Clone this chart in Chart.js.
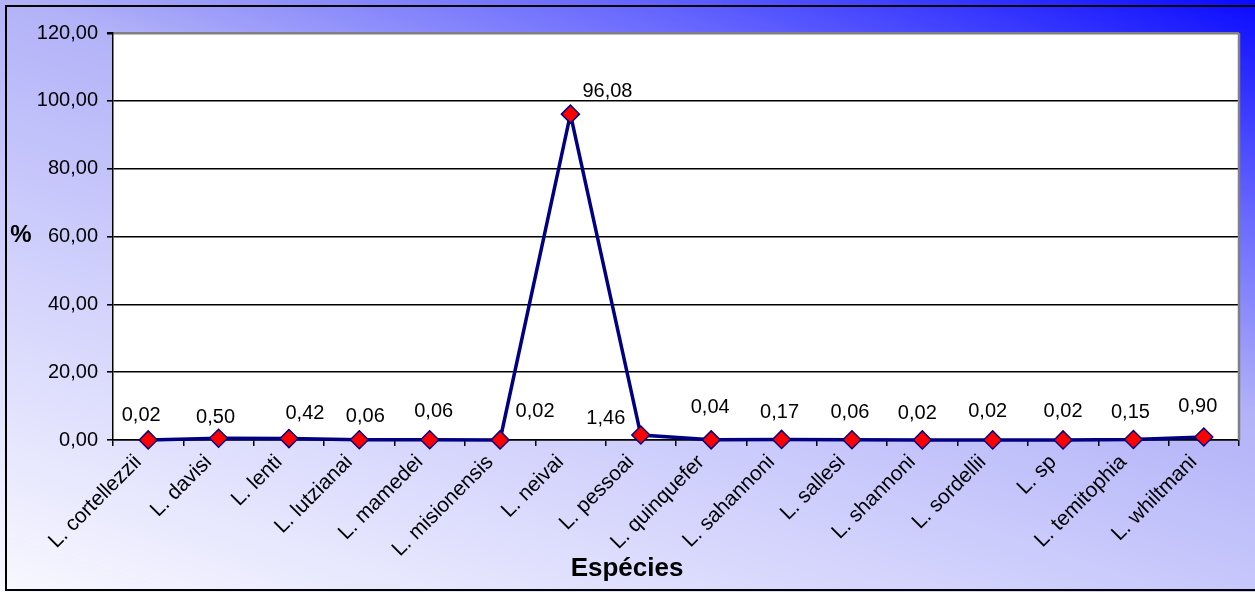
<!DOCTYPE html>
<html>
<head>
<meta charset="utf-8">
<script src="https://cdn.jsdelivr.net/npm/chart.js@4/dist/chart.umd.min.js"></script>
<style>
  html, body { margin: 0; padding: 0; background: #fff; }
  #wrap { width: 1255px; height: 592px; }
</style>
</head>
<body>
<div id="wrap"><canvas id="chart" width="1255" height="592"></canvas></div>
<script>
// Species percentages
const species = [
  'L. cortellezzii', 'L. davisi', 'L. lenti', 'L. lutzianai', 'L. mamedei',
  'L. misionensis', 'L. neivai', 'L. pessoai', 'L. quinquefer', 'L. sahannoni',
  'L. sallesi', 'L. shannoni', 'L. sordellii', 'L. sp', 'L. temitophia', 'L. whiltmani',
];
const percent = [0.02, 0.50, 0.42, 0.06, 0.06, 0.02, 96.08, 1.46, 0.04, 0.17, 0.06, 0.02, 0.02, 0.02, 0.15, 0.90];
const yTicks = [0, 20, 40, 60, 80, 100, 120];

// value label nudges (px from the marker), some moved off the line
const labelDx = [-7, -3, 16, 6, 4, 35, 37, -35, -1, -2, -2, -5, -5, 0, -3, -6];
const labelDy = [-24, -21, -25, -23, -28, -28, -23, -17, -32, -27, -27, -26, -28, -28, -27, -30];

const FONT = '"Liberation Sans", Arial, sans-serif';
const NAVY = '#000080';

// "96.08" -> "96,08"
function comma(v, digits) { return v.toFixed(digits).replace('.', ','); }

const framePlugin = {
  id: 'frame',
  beforeDraw(chart) {
    const { ctx, width, height, chartArea: a } = chart;
    ctx.save();
    // diagonal wash: pale bottom-left to strong blue top-right
    const dx = 1, dy = 3;
    const len = width * dx + height * dy;
    const k = len / (dx * dx + dy * dy);
    const grad = ctx.createLinearGradient(0, height, dx * k, height - dy * k);
    grad.addColorStop(0, '#f8f8ff');
    grad.addColorStop(0.41, '#c8c8fc');
    grad.addColorStop(0.59, '#b2b2f8');
    grad.addColorStop(0.79, '#6666ff');
    grad.addColorStop(1, '#0a0aff');
    ctx.fillStyle = grad;
    ctx.fillRect(0, 0, width, height);

    ctx.fillStyle = '#fff';
    ctx.fillRect(a.left, a.top, a.right - a.left, a.bottom - a.top);

    ctx.strokeStyle = '#000';
    ctx.lineWidth = 2;
    ctx.strokeRect(6, 6, width + 10, height - 8);
    ctx.restore();
  },
  afterDraw(chart) {
    const { ctx, chartArea: a } = chart;
    ctx.save();
    ctx.strokeStyle = '#808080';
    ctx.lineWidth = 2.5;
    ctx.beginPath();
    ctx.moveTo(a.right, a.top);
    ctx.lineTo(a.right, a.bottom);
    ctx.stroke();

    ctx.fillStyle = '#000';
    ctx.textAlign = 'center';
    ctx.textBaseline = 'middle';
    ctx.font = 'bold 24px ' + FONT;
    ctx.fillText('%', 21, 235);
    ctx.font = 'bold 26px ' + FONT;
    ctx.fillText('Espécies', 627, 569);
    ctx.restore();
  },
};

const valueLabels = {
  id: 'valueLabels',
  afterDatasetsDraw(chart) {
    const { ctx } = chart;
    const meta = chart.getDatasetMeta(0);
    ctx.save();
    ctx.fillStyle = '#000';
    ctx.font = '20px ' + FONT;
    ctx.textAlign = 'center';
    ctx.textBaseline = 'middle';
    meta.data.forEach((pt, i) => {
      ctx.fillText(comma(percent[i], 2), pt.x + labelDx[i], pt.y + labelDy[i]);
    });
    ctx.restore();
  },
};

new Chart(document.getElementById('chart'), {
  type: 'line',
  data: {
    labels: species,
    datasets: [{
      data: percent,
      borderColor: NAVY,
      borderWidth: 3.5,
      tension: 0,
      pointStyle: 'rectRot',
      pointRadius: 9,
      pointBackgroundColor: '#ff0000',
      pointBorderColor: NAVY,
      pointBorderWidth: 1.5,
      clip: false,
    }],
  },
  options: {
    responsive: false,
    animation: false,
    events: [],
    layout: { padding: { left: 0, top: 33, right: 16, bottom: 0 } },
    plugins: { legend: { display: false }, tooltip: { enabled: false } },
    scales: {
      x: {
        offset: true,
        afterFit: (s) => { s.height = 152; },
        grid: { offset: true, drawOnChartArea: false, color: '#000', tickLength: 6, lineWidth: 1.5 },
        border: { color: '#000', width: 1.5 },
        ticks: {
          autoSkip: false, minRotation: 45, maxRotation: 45, padding: 4, labelOffset: -10,
          color: '#000', font: { family: FONT, size: 21 },
        },
      },
      y: {
        min: 0, max: 120,
        afterFit: (s) => { s.width = 113; },
        afterBuildTicks: (s) => { s.ticks = yTicks.map(v => ({ value: v })); },
        grid: {
          color: (c) => (c.tick && c.tick.value === 120 ? '#808080' : '#000'),
          lineWidth: (c) => (c.tick && c.tick.value === 120 ? 2.5 : 1.6),
          tickColor: '#000',
          tickLength: 6,
        },
        border: { color: '#000', width: 1.5 },
        ticks: {
          padding: 9, color: '#000',
          font: { family: FONT, size: 20 },
          callback: (v) => comma(v, 2),
        },
      },
    },
  },
  plugins: [framePlugin, valueLabels],
});
</script>
</body>
</html>
